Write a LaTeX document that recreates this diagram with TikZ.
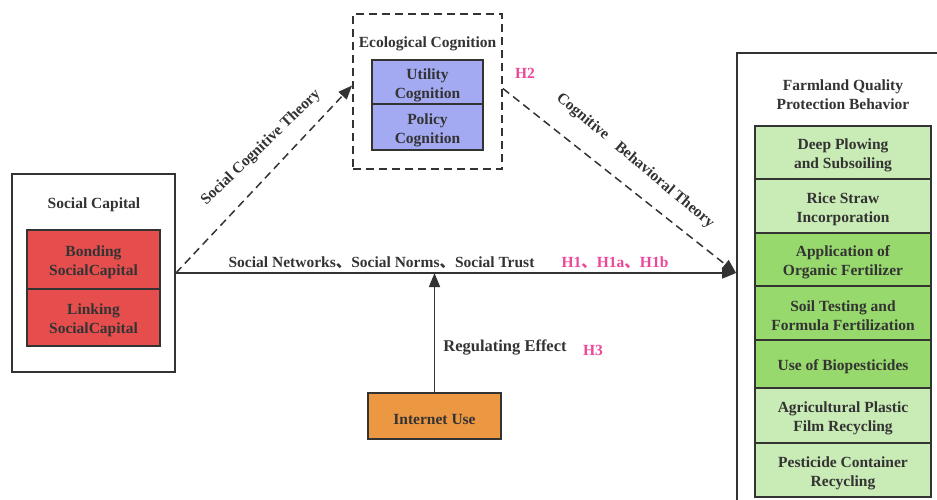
\documentclass[tikz,border=0pt]{standalone}
\usepackage{fontspec}
\setmainfont{Liberation Serif}
\newfontfamily\cjk{Noto Sans CJK SC}
\usetikzlibrary{arrows.meta,calc}
\definecolor{txt}{HTML}{333333}
\definecolor{redc}{HTML}{E64D4D}
\definecolor{bluec}{HTML}{A3AAF2}
\definecolor{orangec}{HTML}{EC9742}
\definecolor{lgreen}{HTML}{C9EBB5}
\definecolor{dgreen}{HTML}{97D96D}
\definecolor{pinkc}{HTML}{EC4899}
\tikzset{
  lbl/.style={font=\fontsize{15.5}{19}\selectfont\bfseries, text=txt, align=center, inner sep=0pt},
  celltext/.style={lbl, yshift=-3pt},
  outerbox/.style={draw=txt, line width=1.8pt, fill=white, inner sep=0pt},
  cell/.style={draw=txt, line width=1.8pt, minimum width=#1, inner sep=0pt},
  hyp/.style={font=\fontsize{15.5}{19}\selectfont\bfseries, text=pinkc, inner sep=0pt},
  conn/.style={draw=txt, line width=1.5pt, -{Triangle[length=14pt,width=11pt]}},
  dconn/.style={conn, dash pattern=on 8pt off 5pt},
}
\begin{document}
\begin{tikzpicture}[x=1pt,y=-1pt]
\useasboundingbox (0,0) rectangle (937,499);
% outer boxes
\node[outerbox, minimum width=163pt, minimum height=198pt] (sc) at (93.5,273) {};
\node[outerbox, dash pattern=on 8pt off 5pt, minimum width=149pt, minimum height=155pt] (ec) at (427.5,91.5) {};
\node[outerbox, minimum width=208pt, minimum height=457pt] (fq) at (841,281.5) {};
% titles
\node[lbl] (sct) at (94,204.5) {Social Capital};
\node[lbl] (ect) at (427.5,44) {Ecological Cognition};
\node[lbl] (fqt) at (843,95) {Farmland Quality\\Protection Behavior};
% social capital cells
\node[cell=133pt, minimum height=59pt, fill=redc] (b1) at (93.5,259.5) {};
\node[cell=133pt, minimum height=57pt, fill=redc] (b2) at (93.5,317.5) {};
\node[celltext] (b1t) at (b1) {Bonding\\SocialCapital};
\node[celltext] (b2t) at (b2) {Linking\\SocialCapital};
% ecological cognition cells
\node[cell=111pt, minimum height=44pt, fill=bluec] (u1) at (427.5,82) {};
\node[cell=111pt, minimum height=46pt, fill=bluec] (u2) at (427.5,127) {};
\node[celltext] (u1t) at (u1) {Utility\\Cognition};
\node[celltext] (u2t) at (u2) {Policy\\Cognition};
% farmland cells
\node[cell=176pt, minimum height=53pt, fill=lgreen] (g1) at (843,152.5) {};
\node[cell=176pt, minimum height=54pt, fill=lgreen] (g2) at (843,206) {};
\node[cell=176pt, minimum height=53pt, fill=dgreen] (g3) at (843,259.5) {};
\node[cell=176pt, minimum height=54pt, fill=dgreen] (g4) at (843,313) {};
\node[cell=176pt, minimum height=48pt, fill=dgreen] (g5) at (843,364) {};
\node[cell=176pt, minimum height=55pt, fill=lgreen] (g6) at (843,415.5) {};
\node[cell=176pt, minimum height=54pt, fill=lgreen] (g7) at (843,470) {};
\node[celltext] (g1t) at (g1) {Deep Plowing\\and Subsoiling};
\node[celltext] (g2t) at (g2) {Rice Straw\\Incorporation};
\node[celltext] (g3t) at (g3) {Application of\\Organic Fertilizer};
\node[celltext] (g4t) at (g4) {Soil Testing and\\Formula Fertilization};
\node[celltext] (g5t) at (g5) {Use of Biopesticides};
\node[celltext] (g6t) at (g6) {Agricultural Plastic\\Film Recycling};
\node[celltext] (g7t) at (g7) {Pesticide Container\\Recycling};
% internet use
\node[cell=133pt, minimum height=46pt, fill=orangec] (iu) at (434.5,416) {};
\node[celltext] (iut) at (iu) {Internet Use};
% connectors
\coordinate (tgt) at (sc.east -| fq.west);
\coordinate (mid) at (iu.north |- sc.east);
\draw[conn] (sc.east) -- (tgt);
\draw[dconn] (sc.east) -- ([yshift=6pt]ec.west);
\draw[dconn] ([yshift=3pt]ec.east) -- (tgt);
\draw[conn] (iu.north) -- (mid);
% labels
\node[lbl] (l1) at (381.5,263) {Social Networks{\cjk 、}Social Norms{\cjk 、}Social Trust};
\node[hyp] (h1) at (615,263) {H1{\cjk 、}H1a{\cjk 、}H1b};
\node[hyp] (h2) at (525,73) {H2};
\node[lbl, font=\fontsize{16.5}{19}\selectfont\bfseries] (l2) at (505,348) {Regulating Effect};
\node[hyp] (h3) at (593,350) {H3};
\node[lbl, rotate=44] (l3) at (261,148) {Social Cognitive Theory};
\node[lbl, rotate=-40] (l4) at (635,161) {Cognitive\hspace{0.8em}Behavioral Theory};
\end{tikzpicture}
\end{document}
